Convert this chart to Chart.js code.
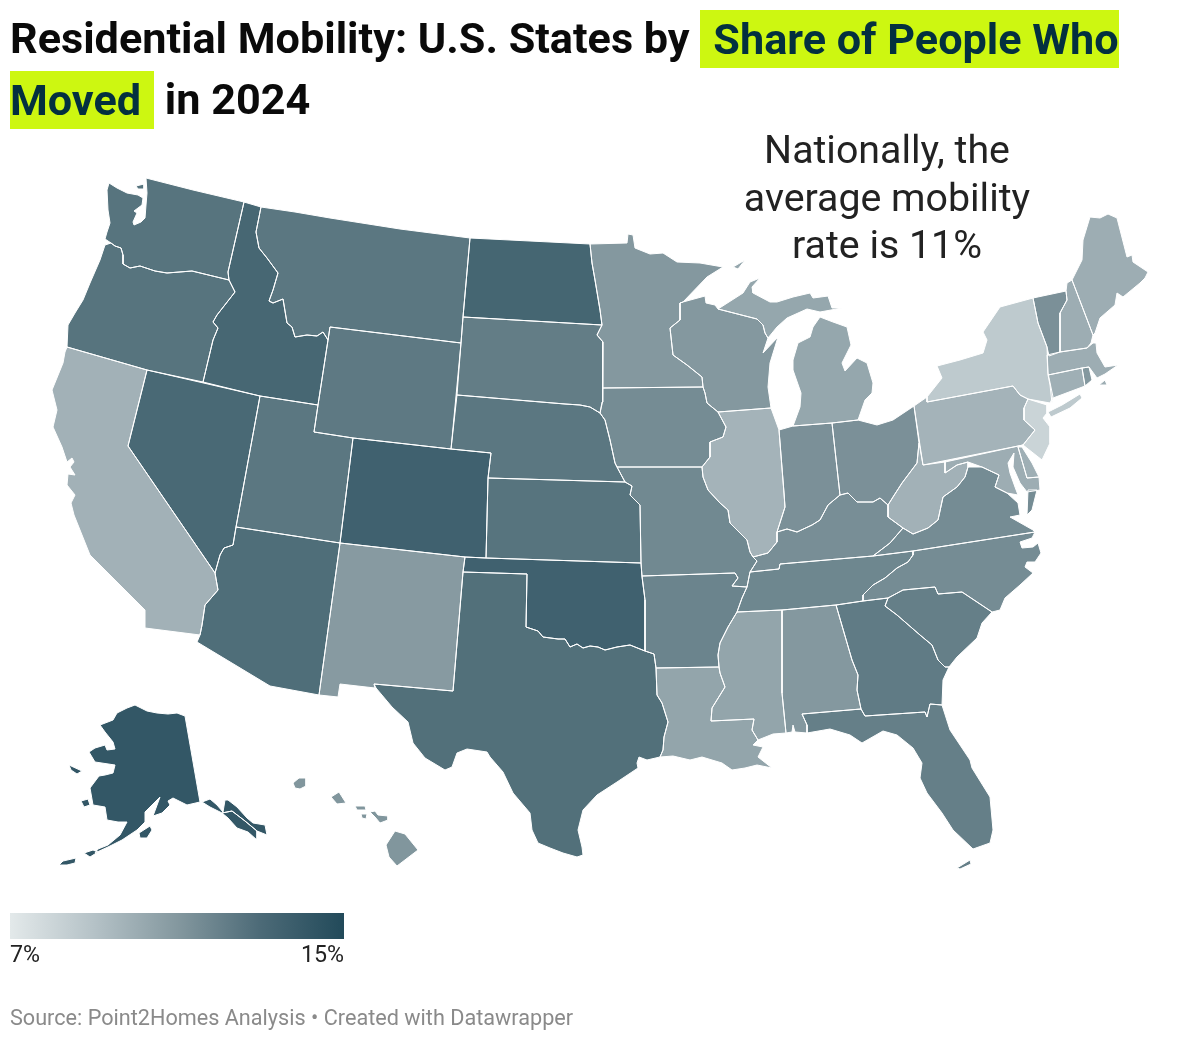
<!DOCTYPE html>
<html><head><meta charset="utf-8">
<script src="https://cdn.jsdelivr.net/npm/chart.js@4"></script>
<style>
html,body{margin:0;padding:0;background:#fff;overflow:hidden}
body{width:1200px;height:1043px;position:relative;font-family:Roboto,sans-serif}
#map{position:absolute;left:0;top:0}
#title{position:absolute;left:10px;top:8px;font-weight:700;font-size:43.2px;line-height:61px;color:#0a0a0a;white-space:nowrap}
#title span{background:#cdf711;color:#03303f;padding:3.5px 0 3.5px 13px}
#title span.b{padding:3.5px 13px 3.5px 0}
#note{position:absolute;left:687px;width:400px;top:127px;text-align:center;font-size:39.3px;line-height:47.5px;color:#222}
#bar{position:absolute;left:10px;top:913px;width:334px;height:26px;background:linear-gradient(90deg,#e3e9ea,#b5c2c7 25%,#84989f 50%,#4c6a77 75%,#224a5a)}
.lab{position:absolute;top:941px;font-size:23.2px;line-height:26px;color:#222}
#src{position:absolute;left:10px;top:1004px;font-size:21.65px;line-height:28px;color:#8a8a8a;white-space:nowrap}
</style></head><body>
<canvas id="map" width="1200" height="1043"></canvas>
<div id="title">Residential Mobility: U.S. States by <span>Share of People Who</span><br><span class="b">Moved</span> in 2024</div>
<div id="note">Nationally, the<br>average mobility<br>rate is 11%</div>
<div id="bar"></div>
<div class="lab" style="left:10px">7%</div>
<div class="lab" style="left:244px;width:100px;text-align:right">15%</div>
<div id="src">Source: Point2Homes Analysis • Created with Datawrapper</div>
<script>
const rev=a=>[...a].reverse();
// shared borders (map units)
const columbia=[[111,243],[115,246],[121,248],[123,255],[123,264],[130,268],[140,266],[155,271],[167,273],[192,271],[229,280]];
const orId=[[229,280],[235,292],[217,315],[213,322],[218,328],[213,340],[203,382]];
const idMt=[[261,207],[256,232],[259,248],[267,258],[278,273],[273,290],[269,301],[273,303],[283,299],[287,323],[292,327],[295,337],[307,335],[317,336],[323,332],[328,340]];
const azCa=[[215,573],[218,590],[205,605],[202,625],[200,635]];
const sdNe=[[457,395],[565,404],[580,405],[590,407],[600,413]];
const iaNe=[[600,413],[605,420],[610,440],[615,463],[617,467]];
const ksMo=[[625,482],[632,486],[630,495],[640,505],[641,563]];
const redRiver=[[526,627],[538,631],[543,637],[558,639],[565,639],[570,647],[577,644],[583,648],[590,646],[598,647],[605,650],[617,647],[630,645],[645,651]];
const txLa=[[654,654],[656,668],[657,695],[662,703],[668,722],[664,737],[663,750],[660,757]];
const mnWi=[[683,302],[680,303],[680,320],[670,328],[673,355],[687,365],[702,377],[703,387]];
const iaWi=[[703,387],[705,393],[707,403],[718,412]];
const iaIl=[[718,412],[726,427],[723,437],[710,442],[710,457],[702,467]];
const moIl=[[702,467],[703,477],[708,490],[720,503],[728,510],[730,523],[747,540],[750,552],[753,557]];
const moKyTn=[[753,557],[757,561],[750,572],[747,587]];
const bootheel=[[747,587],[732,586],[738,578],[735,573],[642,576]];
const tnAr=[[747,587],[742,598],[737,612]];
const msAr=[[737,612],[728,627],[720,643],[718,655],[719,667]];
const msLa=[[719,667],[720,673],[725,687],[712,708],[711,721],[754,719],[752,730],[758,740]];
const ilIn=[[779,430],[784,493],[785,507],[777,532]];
const ohioRiverW=[[777,532],[787,529],[797,532],[812,525],[820,520],[828,505],[840,495]];
const ohioRiverE=[[840,495],[848,493],[857,502],[873,502],[880,498],[888,505]];
const ohWv=[[888,505],[893,497],[902,483],[917,463],[919,443],[914,406]];
const kyVa=[[888,517],[903,528],[890,543],[873,556]];
const tnNc=[[913,551],[913,555],[908,562],[897,568],[885,578],[873,585],[863,595],[863,601]];
const ncSc=[[888,598],[903,590],[935,587],[938,594],[962,592],[992,612]];
const gaSc=[[888,598],[885,606],[897,615],[920,635],[932,645],[938,660],[945,667],[949,667]];
const gaAl=[[836,605],[852,660],[858,675],[857,690],[861,709]];
const gaFl=[[861,709],[865,716],[925,712],[927,717],[930,704],[942,705]];
const nyPa=[[927,402],[1013,386],[1020,395],[1028,399]];
const paNj=[[1028,399],[1024,408],[1024,420],[1035,430],[1023,445]];
const vaWv=[[968,467],[965,477],[957,487],[943,497],[938,520],[928,528],[913,534],[903,528]];
const mdVa=[[968,462],[982,467],[999,475],[995,487],[1007,493],[1018,495]];
const nyVt=[[1033,298],[1038,323],[1047,347]];
const vtNh=[[1066,291],[1067,300],[1060,313],[1060,352]];

// state outlines, each a list of closed rings in map units
const WA=[[[109,183],[107,190],[108,210],[110,223],[107,232],[105,239],...columbia,[228,272],[244,202],[193,190],[146,178],[147,193],[146,205],[145,218],[141,222],[134,225],[133,222],[137,213],[134,211],[142,205],[143,198],[138,195],[127,193],[117,188]],
 [[136,186],[144,184],[144,189],[138,189]]];
const OR=[[[105,245],[100,260],[90,283],[83,300],[75,313],[68,325],[67,347],[147,370],...rev(orId),...rev(columbia)]];
const ID=[[[229,280],[228,272],[244,202],...idMt,[318,405],[260,396],...rev(orId)]];
const MT=[[...idMt,[330,327],[461,343],[463,317],[470,238],[400,229],[330,218],[295,212]]];
const WY=[[[330,327],[461,343],[451,449],[353,438],[314,432],[318,405]]];
const ND=[[[470,238],[590,244],[592,263],[595,280],[600,310],[602,325],[463,317]]];
const SD=[[[463,317],[602,325],[597,335],[603,342],[603,388],[602,402],...rev(sdNe),[461,343]]];
const NE=[[...sdNe,...iaNe,[625,482],[488,478],[491,453],[451,449]]];
const KS=[[[488,478],[625,482],...ksMo.slice(1),[486,558]]];
const CO=[[[353,438],[451,449],[491,453],[488,478],[486,558],[465,557],[340,543]]];
const UT=[[[260,396],[318,405],[314,432],[353,438],[340,543],[236,527]]];
const NV=[[[147,370],[260,396],[236,527],[233,545],[224,548],[220,555],[215,573],[128,446]]];
const CA=[[[67,347],[147,370],[128,446],[215,573],...azCa.slice(1),[145,628],[145,610],[125,590],[105,570],[90,555],[84,540],[74,515],[71,503],[75,495],[67,485],[68,474],[75,475],[70,467],[74,462],[72,458],[67,462],[62,447],[53,427],[57,410],[52,390],[63,363],[65,352]]];
const AZ=[[[236,527],[340,543],[319,695],[270,686],[197,642],...rev(azCa),[220,555],[224,548],[233,545]]];
const NM=[[[340,543],[465,557],[463,572],[453,691],[374,684],[375,688],[340,684],[338,697],[319,695]]];
const OK=[[[465,557],[486,558],[641,563],[642,577],[645,600],[645,651],...rev(redRiver),[527,574],[463,572]]];
const TX=[[[463,572],[527,574],...redRiver,...txLa,[647,760],[639,757],[637,763],[638,768],[617,782],[597,795],[583,810],[578,830],[582,847],[583,855],[577,857],[563,853],[550,848],[538,843],[532,830],[530,813],[513,793],[503,772],[490,757],[487,752],[467,749],[457,753],[452,767],[445,770],[425,758],[413,743],[408,722],[392,707],[376,688],[374,684],[453,691]]];
const AR=[[[642,576],...rev(bootheel).slice(1),...tnAr.slice(1),...msAr.slice(1),[656,668],[654,654],[645,651],[645,600]]];
const MO=[[[617,467],...moIl,...moKyTn.slice(1),...bootheel.slice(1),[641,563],...rev(ksMo).slice(1)]];
const IA=[[[603,388],...iaWi,...iaIl,[617,467],...rev(iaNe).slice(1),[602,402]]];
const MN=[[[590,244],[627,243],[628,234],[633,235],[635,248],[650,254],[663,253],[677,262],[700,263],[723,267],[707,277],...mnWi,[603,388],[603,342],[597,335],[602,325],[600,310],[595,280],[592,263]]];
const WI=[[[683,302],[705,296],[706,303],[715,305],[718,309],[757,319],[763,325],[765,333],[768,338],[763,353],[778,337],[770,363],[768,387],[771,408],[718,412],...rev(iaWi).slice(1),...rev(mnWi).slice(1)]];
const MI=[[[718,309],[743,293],[750,282],[760,278],[752,287],[753,293],[770,302],[777,302],[793,297],[810,293],[813,298],[828,296],[832,308],[842,308],[820,312],[807,309],[787,318],[777,327],[768,338],[765,333],[763,325],[757,319]],
 [[820,317],[833,322],[847,327],[851,345],[842,363],[845,371],[857,358],[867,363],[873,383],[872,393],[865,400],[858,420],[832,423],[793,426],[800,407],[801,393],[793,370],[793,360],[798,343],[810,337],[813,327]],
 [[733,267],[745,260],[738,269]]];
const IL=[[[718,412],[771,408],...ilIn,[777,542],[768,553],[753,557],...rev(moIl).slice(1),...rev(iaIl).slice(1)]];
const IN=[[[779,430],[793,426],[832,423],[840,495],...rev(ohioRiverW).slice(1),...rev(ilIn).slice(1)]];
const OH=[[[832,423],[858,420],[877,425],[893,420],[914,406],...rev(ohWv).slice(1),...rev(ohioRiverE).slice(1)]];
const KY=[[...ohioRiverW,...ohioRiverE.slice(1),[888,517],...kyVa.slice(1),[780,564],[779,569],[750,572],[757,561],[753,557],[768,553],[777,542]]];
const TN=[[[750,572],[779,569],[780,564],[873,556],[913,551],...tnNc.slice(1),[836,605],[782,610],[737,612],[742,598],[747,587]]];
const NC=[[[913,551],[1035,532],[1032,538],[1020,542],[1022,548],[1033,547],[1038,543],[1041,553],[1035,562],[1027,562],[1025,567],[1033,573],[1020,585],[1005,598],[1000,610],[992,612],...rev(ncSc).slice(1),[863,601],...rev(tnNc).slice(1)]];
const SC=[[...ncSc,[982,623],[977,638],[957,657],...rev(gaSc).slice(0,-1)]];
const GA=[[[836,605],[863,601],...gaSc,[943,680],[942,705],...rev(gaFl).slice(1),...rev(gaAl).slice(1)]];
const AL=[[[782,610],[836,605],...gaAl.slice(1),[802,714],[807,725],[807,733],[795,732],[793,725],[792,732],[786,733],[782,693]]];
const MS=[[[737,612],[782,610],[782,693],[786,733],[773,734],...rev(msLa),...rev(msAr).slice(1)]];
const LA=[[[656,668],[719,667],...msLa.slice(1),[753,745],[763,747],[758,757],[772,768],[757,765],[745,768],[732,770],[722,763],[702,757],[690,760],[673,756],[660,757],[663,750],[664,737],[668,722],[662,703],[657,695]]];
const FL=[[[802,714],[861,709],...gaFl.slice(1),[950,730],[970,760],[972,768],[990,797],[993,830],[990,843],[973,849],[953,830],[942,813],[927,793],[920,778],[922,763],[913,748],[897,735],[883,731],[862,743],[850,735],[830,729],[807,733],[807,725]],
 [[957,868],[970,860],[971,864],[960,869]]];
const VA=[[[873,556],[890,543],...rev(vaWv),...mdVa.slice(1,-1),[1018,503],[1020,515],[1010,517],[1033,530],[1035,532],[913,551]],
 [[1028,490],[1037,490],[1032,510],[1027,515]]];
const WV=[[[919,443],[923,465],[945,462],[945,473],[957,465],[968,462],[968,467],...vaWv.slice(1),[888,517],[888,505],[893,497],[902,483],[917,463]]];
const PA=[[[914,406],[927,397],...nyPa,...paNj.slice(1),[923,465]]];
const NY=[[[927,397],[942,378],[937,366],[960,360],[983,353],[987,340],[983,332],[1000,307],...nyVt,[1048,373],[1053,397],[1050,403],[1028,399],[1020,395],[1013,386],[927,402]],
 [[1048,412],[1062,405],[1080,394],[1082,398],[1070,408],[1051,417]]];
const NJ=[[...paNj.slice(0,1),[1047,405],[1047,413],[1043,418],[1050,427],[1050,443],[1042,460],[1023,445],...rev(paNj).slice(1,-1)]];
const DE=[[[1018,447],[1022,447],[1032,463],[1039,477],[1027,478]]];
const MD=[[[945,462],[1023,445],[1018,447],[1027,478],[1039,477],[1040,490],[1027,492],[1020,483],[1013,467],[1014,453],[1008,463],[1010,473],[1015,487],[1018,495],...rev(mdVa).slice(1),[957,465],[945,473]]];
const CT=[[[1048,375],[1082,368],[1085,386],[1053,398],[1052,403],[1050,385]]];
const RI=[[[1082,368],[1089,367],[1092,380],[1085,386]]];
const MA=[[[1047,355],[1060,352],[1087,348],[1093,343],[1096,343],[1097,353],[1105,367],[1118,365],[1105,374],[1097,378],[1089,367],[1082,368],[1048,375]],
 [[1099,385],[1105,380],[1107,385]]];
const VT=[[...nyVt.slice(0,1),[1066,291],...vtNh.slice(1),[1049,356],[1047,347],[1038,323]]];
const NH=[[[1067,283],[1072,280],[1093,335],[1091,343],[1087,348],[1060,352],...rev(vtNh).slice(1,-1),[1066,291]]];
const ME=[[[1072,280],[1082,260],[1083,240],[1090,217],[1100,218],[1108,214],[1117,218],[1127,257],[1132,255],[1133,262],[1148,272],[1145,278],[1140,283],[1123,297],[1117,293],[1115,305],[1100,318],[1095,333],[1093,335]]];
const AK=[[[185,716],[177,713],[168,714],[157,713],[147,711],[135,705],[127,708],[117,713],[113,720],[100,725],[105,732],[113,742],[115,749],[107,750],[105,745],[95,748],[89,752],[95,762],[115,765],[113,773],[105,775],[99,776],[90,788],[93,805],[105,807],[107,820],[118,822],[127,822],[120,835],[108,845],[98,849],[95,853],[108,847],[122,840],[137,830],[145,822],[145,812],[160,797],[153,816],[162,813],[170,805],[168,801],[173,798],[187,805],[200,802]],
 [[202,802],[210,799],[217,805],[223,812],[225,800],[228,800],[237,807],[247,818],[253,823],[265,825],[267,835],[257,831],[245,821],[232,811],[222,813],[210,807]],
 [[222,813],[232,811],[245,821],[257,831],[257,840],[248,832],[237,828],[228,818]],
 [[139,833],[150,826],[152,830],[147,838],[140,838]],
 [[59,865],[63,861],[76,858],[75,863],[67,865]],
 [[84,853],[93,850],[98,852],[90,857]],
 [[69,765],[82,771],[77,774],[71,770]],
 [[81,801],[88,799],[90,805],[84,807]]];
const HI=[[[293,783],[299,778],[306,778],[306,786],[300,789],[295,788]],
 [[331,797],[339,792],[346,803],[337,804]],
 [[355,806],[365,806],[366,810],[357,810]],
 [[361,814],[367,814],[366,819],[362,818]],
 [[370,812],[375,811],[378,815],[388,816],[388,820],[380,823],[375,817]],
 [[395,831],[405,834],[418,850],[397,866],[389,857],[386,845]]];

const stateNames=["WA","OR","ID","MT","WY","ND","SD","NE","KS","CO","UT","NV","CA","AZ","NM","OK","TX","AR","MO","IA","MN","WI","MI","IL","IN","OH","KY","TN","NC","SC","GA","AL","MS","LA","FL","VA","WV","PA","NY","NJ","DE","MD","CT","RI","MA","VT","NH","ME","AK","HI"];
const stateRates=[12.6,12.6,13.3,12.4,12.3,13.4,12.1,12.4,12.6,13.7,12.4,13.2,9.8,12.9,10.9,13.7,12.8,11.8,11.6,11.5,11.0,11.0,10.3,9.7,11.3,11.3,11.4,11.7,11.5,12.0,12.2,11.0,10.4,10.4,12.0,11.5,9.8,9.7,8.6,8.1,9.9,10.0,9.9,11.0,10.0,11.3,10.0,10.0,14.3,11.1];
const stateRings=[WA,OR,ID,MT,WY,ND,SD,NE,KS,CO,UT,NV,CA,AZ,NM,OK,TX,AR,MO,IA,MN,WI,MI,IL,IN,OH,KY,TN,NC,SC,GA,AL,MS,LA,FL,VA,WV,PA,NY,NJ,DE,MD,CT,RI,MA,VT,NH,ME,AK,HI];

const rampRates=[7,9,10,11,12,13,14,15];
const rampColors=[[227,233,234],[181,194,199],[157,173,179],[132,152,159],[101,127,136],[77,108,119],[58,92,107],[34,74,90]];
function shade(v){
  let i=0; while(i<rampRates.length-2&&v>rampRates[i+1])i++;
  const t=(v-rampRates[i])/(rampRates[i+1]-rampRates[i]);
  const c=rampColors[i].map((a,k)=>Math.round(a+(rampColors[i+1][k]-a)*t));
  return `rgb(${c[0]},${c[1]},${c[2]})`;
}
const datasets=[];
stateNames.forEach((n,i)=>stateRings[i].forEach(r=>{
  const pts=r.map(p=>({x:p[0],y:p[1]})); pts.push(pts[0]);
  datasets.push({label:n,rate:stateRates[i],data:pts,showLine:true,fill:'shape',tension:0,
    backgroundColor:shade(stateRates[i]),borderColor:'#fff',borderWidth:1,pointRadius:0,clip:false});
}));
new Chart(document.getElementById('map'),{type:'scatter',data:{datasets},options:{
  responsive:false,animation:false,devicePixelRatio:1,events:[],layout:{padding:0},
  plugins:{legend:{display:false},tooltip:{enabled:false},filler:{drawTime:'beforeDatasetsDraw'}},
  scales:{x:{type:'linear',display:false,min:0,max:1200},y:{type:'linear',display:false,min:0,max:1043,reverse:true}}
}});
</script>
</body></html>
